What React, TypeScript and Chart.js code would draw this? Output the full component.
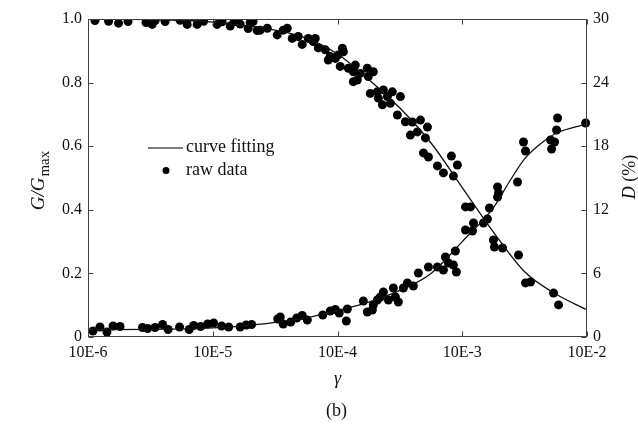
import React, { useEffect, useRef } from "react";
import { Chart, registerables } from "chart.js";

Chart.register(...registerables);

// ---- data (x stored as log10(gamma)) ----
const xTickValues = [1e-6, 1e-5, 1e-4, 1e-3, 1e-2];
const xTickLabels = ["10E-6", "10E-5", "10E-4", "10E-3", "10E-2"];

const gRawLogGamma = [
  -5.944, -5.835, -5.755, -5.679, -5.535, -5.486, -5.462, -5.382, -5.262, -5.205,
  -5.125, -5.073, -4.965, -4.925, -4.86, -4.828, -4.78, -4.716, -4.7, -4.676,
  -4.644, -4.62, -4.563, -4.483, -4.435, -4.403, -4.363, -4.315, -4.283, -4.234,
  -4.194, -4.178, -4.154, -4.098, -4.074, -4.058, -4.018, -3.994, -3.961, -3.953,
  -3.978, -3.913, -3.873, -3.857, -3.817, -3.841, -3.873, -3.761, -3.753, -3.713,
  -3.737, -3.681, -3.673, -3.632, -3.64, -3.6, -3.576, -3.56, -3.496, -3.52,
  -3.456, -3.4, -3.335, -3.279, -3.416, -3.36, -3.295, -3.311, -3.271, -3.199,
  -3.151, -3.087, -3.039, -3.071, -2.974, -2.934, -2.75, -2.742, -2.677, -2.549,
  -2.493, -2.453, -2.268, -2.228,
];
const gRawRatio = [
  0.995, 0.993, 0.987, 0.992, 0.989, 0.983, 0.995, 0.992, 0.996, 0.983,
  0.983, 0.993, 0.983, 0.991, 0.978, 0.991, 0.984, 0.97, 0.989, 0.992,
  0.964, 0.965, 0.971, 0.95, 0.965, 0.971, 0.939, 0.945, 0.92, 0.939,
  0.929, 0.939, 0.909, 0.903, 0.871, 0.882, 0.876, 0.887, 0.908, 0.897,
  0.851, 0.845, 0.834, 0.855, 0.829, 0.808, 0.803, 0.845, 0.819, 0.834,
  0.766, 0.771, 0.751, 0.777, 0.73, 0.756, 0.735, 0.771, 0.756, 0.698,
  0.677, 0.676, 0.682, 0.66, 0.635, 0.645, 0.626, 0.579, 0.566, 0.538,
  0.516, 0.569, 0.541, 0.506, 0.409, 0.409, 0.305, 0.283, 0.28, 0.258,
  0.17, 0.173, 0.138, 0.101,
];

const dRawLogGamma = [
  -5.96, -5.904, -5.848, -5.799, -5.743, -5.563, -5.522, -5.462, -5.402, -5.358,
  -5.266, -5.189, -5.153, -5.097, -5.041, -4.993, -4.929, -4.872, -4.78, -4.732,
  -4.688, -4.479, -4.459, -4.435, -4.375, -4.327, -4.283, -4.242, -4.118, -4.058,
  -4.018, -3.986, -3.921, -3.929, -3.793, -3.761, -3.721, -3.713, -3.681, -3.657,
  -3.632, -3.592, -3.552, -3.512, -3.536, -3.472, -3.44, -3.392, -3.352, -3.271,
  -3.199, -3.151, -3.135, -3.111, -3.071, -3.047, -3.055, -2.974, -2.918, -2.91,
  -2.83, -2.798, -2.782, -2.717, -2.709, -2.717, -2.557, -2.509, -2.493, -2.292,
  -2.26, -2.284, -2.244, -2.236, -2.011,
];
const dRawDamping = [
  0.57, 0.94, 0.47, 1.04, 0.99, 0.9, 0.8, 0.9, 1.18, 0.71,
  0.94, 0.71, 1.08, 0.99, 1.23, 1.32, 1.04, 0.94, 0.94, 1.13,
  1.18, 1.7, 1.89, 1.23, 1.42, 1.79, 2.03, 1.6, 2.08, 2.45,
  2.59, 2.26, 2.64, 1.51, 3.4, 2.36, 2.55, 3.02, 3.49, 3.77,
  4.25, 3.49, 4.62, 3.3, 3.77, 4.62, 5.09, 4.81, 6.04, 6.6,
  6.6, 6.32, 7.55, 6.98, 6.79, 6.13, 8.11, 10.09, 10.0, 10.75,
  10.75, 11.13, 12.17, 13.21, 13.58, 14.15, 14.62, 18.4, 17.55, 18.58,
  18.4, 17.74, 19.53, 20.66, 20.19,
];

const gFitLogGamma = [-6, -5.75, -5.5, -5.25, -5, -4.75, -4.5, -4.25, -4, -3.75, -3.5, -3.25, -3, -2.75, -2.5, -2.25, -2];
const gFitRatio = [1.0, 0.999, 0.998, 0.996, 0.99, 0.98, 0.965, 0.94, 0.89, 0.81, 0.72, 0.61, 0.47, 0.33, 0.205, 0.135, 0.085];

const dFitLogGamma = [-6, -5.5, -5, -4.75, -4.5, -4.25, -4, -3.75, -3.5, -3.25, -3, -2.75, -2.625, -2.5, -2.375, -2.25, -2];
const dFitDamping = [0.7, 0.72, 0.86, 1.05, 1.38, 1.8, 2.5, 3.3, 4.4, 6.0, 9.0, 12.2, 14.6, 16.8, 18.2, 19.2, 20.1];

const FONT = '"Liberation Serif", "Times New Roman", serif';

const toPts = (lx: number[], ys: number[]) => lx.map((v, i) => ({ x: Math.pow(10, v), y: ys[i] }));

const decor = {
  id: "decor",
  afterDraw(chart: any) {
    const { ctx, chartArea: a, scales } = chart;
    ctx.save();
    ctx.strokeStyle = "#404040";
    ctx.lineWidth = 1;
    const L = Math.round(a.left) + 0.5, R = Math.round(a.right) - 0.5;
    const T = Math.round(a.top) + 0.5, B = Math.round(a.bottom) - 0.5;
    const line = (x1: number, y1: number, x2: number, y2: number) => {
      ctx.beginPath(); ctx.moveTo(x1, y1); ctx.lineTo(x2, y2); ctx.stroke();
    };
    ctx.strokeRect(L, T, R - L, B - T);
    const tl = 5;
    scales.x.ticks.forEach((t: any) => {
      const x = Math.round(scales.x.getPixelForValue(t.value)) + 0.5;
      line(x, B, x, B - tl);
      line(x, T, x, T + tl);
    });
    scales.y.ticks.forEach((t: any) => {
      const y = Math.round(scales.y.getPixelForValue(t.value)) + 0.5;
      line(L, y, L + tl, y);
    });
    scales.y2.ticks.forEach((t: any) => {
      const y = Math.round(scales.y2.getPixelForValue(t.value)) + 0.5;
      line(R, y, R - tl, y);
    });

    ctx.fillStyle = "#111";
    ctx.textBaseline = "alphabetic";
    // left title G/Gmax
    ctx.save();
    ctx.translate(44, 181);
    ctx.rotate(-Math.PI / 2);
    ctx.font = `italic 19px ${FONT}`;
    const w1 = ctx.measureText("G/G").width;
    ctx.font = `15px ${FONT}`;
    const w2 = ctx.measureText("max").width;
    const start = -(w1 + w2) / 2;
    ctx.font = `italic 19px ${FONT}`;
    ctx.textAlign = "left";
    ctx.fillText("G/G", start, 0);
    ctx.font = `15px ${FONT}`;
    ctx.fillText("max", start + w1 + 1, 5);
    ctx.restore();

    // right title D (%)
    ctx.save();
    ctx.translate(635, 177);
    ctx.rotate(-Math.PI / 2);
    ctx.font = `italic 18px ${FONT}`;
    const wd = ctx.measureText("D").width;
    ctx.font = `18px ${FONT}`;
    const wp = ctx.measureText(" (%)").width;
    const s2 = -(wd + wp) / 2;
    ctx.textAlign = "left";
    ctx.font = `italic 18px ${FONT}`;
    ctx.fillText("D", s2, 0);
    ctx.font = `18px ${FONT}`;
    ctx.fillText(" (%)", s2 + wd, 0);
    ctx.restore();

    // x title
    ctx.textAlign = "center";
    ctx.font = `italic 18px ${FONT}`;
    ctx.fillText("\u03b3", (a.left + a.right) / 2, 384);
    ctx.font = `18px ${FONT}`;
    ctx.fillText("(b)", (a.left + a.right) / 2 - 1, 416);

    // legend
    ctx.strokeStyle = "#000";
    ctx.lineWidth = 1.2;
    line(148, 148, 183, 148);
    ctx.beginPath();
    ctx.fillStyle = "#000";
    ctx.arc(166, 170.5, 3.5, 0, Math.PI * 2);
    ctx.fill();
    ctx.fillStyle = "#111";
    ctx.textAlign = "left";
    ctx.textBaseline = "middle";
    ctx.font = `18px ${FONT}`;
    ctx.fillText("curve fitting", 186, 147);
    ctx.fillText("raw data", 186, 170);
    ctx.restore();
  },
};

export default function App() {
  const ref = useRef<HTMLCanvasElement | null>(null);
  useEffect(() => {
    if (!ref.current) return;
    const chart = new Chart(ref.current, {
      type: "scatter",
      data: {
        datasets: [
          {
            label: "G fit",
            data: toPts(gFitLogGamma, gFitRatio),
            showLine: true,
            borderColor: "#111",
            borderWidth: 1.3,
            pointRadius: 0,
            cubicInterpolationMode: "monotone",
            yAxisID: "y",
          } as any,
          {
            label: "D fit",
            data: toPts(dFitLogGamma, dFitDamping),
            showLine: true,
            borderColor: "#111",
            borderWidth: 1.3,
            pointRadius: 0,
            cubicInterpolationMode: "monotone",
            yAxisID: "y2",
          } as any,
          {
            label: "G raw",
            data: toPts(gRawLogGamma, gRawRatio),
            pointRadius: 4.5,
            pointBackgroundColor: "#000",
            pointBorderWidth: 0,
            showLine: false,
            clip: 0,
            yAxisID: "y",
          } as any,
          {
            label: "D raw",
            data: toPts(dRawLogGamma, dRawDamping),
            pointRadius: 4.5,
            pointBackgroundColor: "#000",
            pointBorderWidth: 0,
            showLine: false,
            clip: false,
            yAxisID: "y2",
          } as any,
        ],
      },
      options: {
        responsive: false,
        animation: false,
        devicePixelRatio: 1,
        layout: { padding: { top: 19, left: 0, right: 0, bottom: 0 } },
        plugins: { legend: { display: false }, tooltip: { enabled: false } },
        scales: {
          x: {
            type: "logarithmic",
            position: "bottom",
            min: 1e-6,
            max: 1e-2,
            afterBuildTicks: (axis: any) => {
              axis.ticks = xTickValues.map((v) => ({ value: v }));
            },
            afterFit: (axis: any) => { axis.height = 91; },
            grid: { display: false, drawTicks: false },
            border: { display: false },
            ticks: {
              padding: 6,
              color: "#111",
              maxRotation: 0,
              autoSkip: false,
              font: { family: FONT, size: 16 },
              callback: (_v: any, i: number) => xTickLabels[i],
            },
          },
          y: {
            position: "left",
            min: 0,
            max: 1,
            afterFit: (axis: any) => { axis.width = 88; },
            grid: { display: false, drawTicks: false },
            border: { display: false },
            ticks: {
              stepSize: 0.2,
              padding: 6,
              color: "#111",
              font: { family: FONT, size: 16 },
              callback: (v: any) => (v === 0 ? "0" : Number(v).toFixed(1)),
            },
          },
          y2: {
            position: "right",
            min: 0,
            max: 30,
            afterFit: (axis: any) => { axis.width = 51; },
            grid: { display: false, drawTicks: false },
            border: { display: false },
            ticks: {
              stepSize: 6,
              padding: 6,
              color: "#111",
              font: { family: FONT, size: 16 },
            },
          },
        },
      },
      plugins: [decor],
    } as any);
    return () => chart.destroy();
  }, []);
  return (
    <div style={{ position: "fixed", left: 0, top: 0, width: 638, height: 428, background: "#fff" }}>
      <canvas ref={ref} width={638} height={428} style={{ width: 638, height: 428, display: "block" }} />
    </div>
  );
}
